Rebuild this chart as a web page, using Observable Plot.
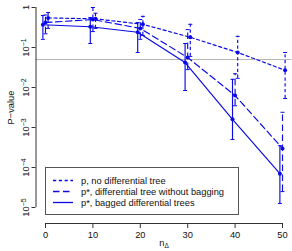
<!DOCTYPE html>
<html>
<head>
<meta charset="utf-8">
<script src="https://cdn.jsdelivr.net/npm/d3@7"></script>
<script src="https://cdn.jsdelivr.net/npm/@observablehq/plot@0.6"></script>
<style>
  body { margin: 0; background: white; }
  #wrap { position: relative; width: 292px; height: 251px; font-family: "Liberation Sans", Arial, sans-serif; }
  #legend { position: absolute; left: 45px; top: 167px; width: 192px; height: 46px; border: 1px solid #555; background: white; font-size: 9.3px; color: #111; box-sizing: content-box; }
  .row { display: flex; align-items: center; height: 11px; margin-left: 7px; }
  .row svg { margin-right: 8px; }
  #legend .row:first-child { margin-top: 7px; }
</style>
</head>
<body>
<div id="wrap"></div>
<script>
// x values
const nDelta = [0, 10, 20, 30, 40, 50];
const xTicks = [0, 10, 20, 30, 40, 50];
const yTicks = [1, 1e-1, 1e-2, 1e-3, 1e-4, 1e-5];
const yTickLabels = ["1", "10^-1", "10^-2", "10^-3", "10^-4", "10^-5"];

// series names
const seriesNames = [
  "p, no differential tree",
  "p*, differential tree without bagging",
  "p*, bagged differential trees"
];

// p, no differential tree
const pValue = [0.55, 0.52, 0.38, 0.18, 0.075, 0.027];
const pLow   = [0.30, 0.30, 0.20, 0.06, 0.017, 0.0053];
const pHigh  = [0.75, 0.72, 0.60, 0.38, 0.19, 0.075];

// p*, differential tree without bagging
const pStarValue = [0.42, 0.50, 0.30, 0.056, 0.0063, 0.0003];
const pStarLow   = [0.22, 0.25, 0.16, 0.028, 0.0035, 0.000025];
const pStarHigh  = [0.65, 1.00, 0.50, 0.28, 0.022, 0.0024];

// p*, bagged differential trees
const pBagValue = [0.37, 0.33, 0.24, 0.042, 0.0016, 0.00007];
const pBagLow   = [0.16, 0.126, 0.075, 0.0084, 0.0005, 0.0000126];
const pBagHigh  = [0.63, 0.56, 0.42, 0.126, 0.016, 0.00035];

const values = [pValue, pStarValue, pBagValue];
const lows = [pLow, pStarLow, pBagLow];
const highs = [pHigh, pStarHigh, pBagHigh];

const color = "#0a0ae6";
const dashes = ["3.2,2.6", "6.5,3.5", null];
const offsets = [2.6, 0, -2.6];

const series = seriesNames.map((name, i) =>
  nDelta.map((n, j) => ({series: name, n, value: values[i][j], lo: lows[i][j], hi: highs[i][j]}))
);

const hline = {
  draw(ctx, size) {
    const r = Math.sqrt(size / Math.PI);
    ctx.moveTo(-r, 0);
    ctx.lineTo(r, 0);
  }
};

const xPad = 0.04 * (xTicks[xTicks.length - 1] - xTicks[0]);

const seriesMarks = series.flatMap((rows, i) => {
  const common = {x: "n", dx: offsets[i], stroke: color, strokeDasharray: dashes[i]};
  return [
    Plot.line(rows, {...common, y: "value", strokeWidth: 1.15}),
    Plot.ruleX(rows, {...common, y1: "lo", y2: "hi", strokeWidth: 1.15}),
    Plot.dot(rows, {x: "n", y: "lo", dx: offsets[i], symbol: hline, r: 2, stroke: color, strokeWidth: 1}),
    Plot.dot(rows, {x: "n", y: "hi", dx: offsets[i], symbol: hline, r: 2, stroke: color, strokeWidth: 1}),
    Plot.dot(rows, {x: "n", y: "value", dx: offsets[i], r: 2, fill: color, stroke: "none"})
  ];
});

const chart = Plot.plot({
  width: 292,
  height: 251,
  marginLeft: 45,
  marginRight: 10,
  marginTop: 7,
  marginBottom: 44,
  style: {fontFamily: "'Liberation Sans', Arial, sans-serif", fontSize: "9.3px", background: "white", color: "#111"},
  x: {domain: [xTicks[0], xTicks[xTicks.length - 1]]},
  y: {type: "log", domain: [yTicks[yTicks.length - 1], yTicks[0]]},
  marks: [
    Plot.ruleY([0.05], {x1: xTicks[0] - xPad, x2: xTicks[xTicks.length - 1] + xPad, stroke: "#b4b4b4", strokeWidth: 1}),
    ...seriesMarks,
    Plot.ruleX([xTicks[0] - xPad], {y1: yTicks[yTicks.length - 1], y2: yTicks[0], stroke: "#333"}),
    Plot.axisY({
      ticks: yTicks,
      tickFormat: (d) => yTickLabels[yTicks.indexOf(d)],
      tickSize: 4,
      tickPadding: 3,
      dx: -9.5,
      tickRotate: -90,
      label: "P\u2212value",
      labelAnchor: "center",
      labelArrow: "none",
      labelOffset: 38,
      stroke: "#333"
    }),
    Plot.ruleY([yTicks[yTicks.length - 1]], {x1: xTicks[0], x2: xTicks[xTicks.length - 1], dy: 16, stroke: "#333"}),
    Plot.axisX({
      ticks: xTicks,
      tickSize: 5,
      tickPadding: 3,
      dy: 16,
      label: "n\u0394",
      labelAnchor: "center",
      labelArrow: "none",
      labelOffset: 38,
      stroke: "#333"
    })
  ]
});

// Superscripts / subscripts as real text spans
d3.select(chart).selectAll("text").each(function() {
  const t = this.textContent;
  const m = /^10\^(-?\d)$/.exec(t);
  if (m) {
    const sel = d3.select(this);
    sel.text("10");
    sel.append("tspan").attr("dy", "-0.45em").attr("font-size", "7px").text(m[1].replace("-", "\u2212"));
  } else if (t === "n\u0394") {
    const sel = d3.select(this);
    sel.text("n");
    sel.append("tspan").attr("dy", "0.35em").attr("font-size", "6.5px").text("\u0394");
  }
});

const wrap = document.getElementById("wrap");
wrap.appendChild(chart);

// Legend
const legend = document.createElement("div");
legend.id = "legend";
seriesNames.forEach((name, i) => {
  const row = document.createElement("div");
  row.className = "row";
  const ns = "http://www.w3.org/2000/svg";
  const s = document.createElementNS(ns, "svg");
  s.setAttribute("width", "20");
  s.setAttribute("height", "11");
  const l = document.createElementNS(ns, "line");
  l.setAttribute("x1", "0"); l.setAttribute("x2", "20");
  l.setAttribute("y1", "5.5"); l.setAttribute("y2", "5.5");
  l.setAttribute("stroke", color);
  l.setAttribute("stroke-width", "1.3");
  if (dashes[i]) l.setAttribute("stroke-dasharray", dashes[i]);
  s.appendChild(l);
  row.appendChild(s);
  const span = document.createElement("span");
  span.textContent = name;
  row.appendChild(span);
  legend.appendChild(row);
});
wrap.appendChild(legend);
</script>
</body>
</html>
